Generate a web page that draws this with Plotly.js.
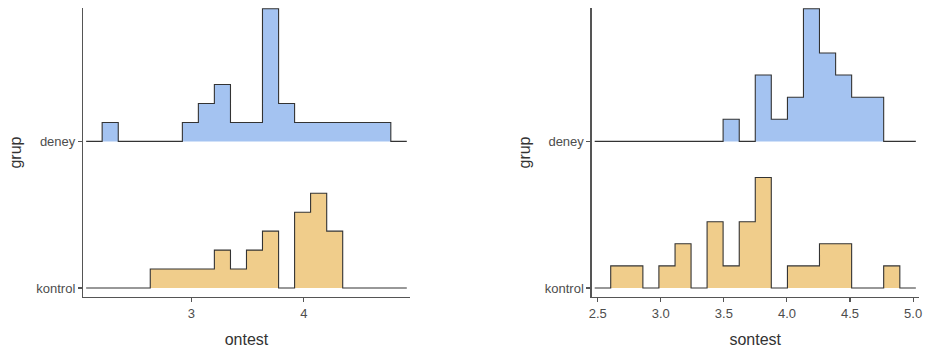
<!DOCTYPE html>
<html>
<head>
<meta charset="utf-8">
<script src="https://cdn.plot.ly/plotly-3.0.1.min.js"></script>
<style>html,body{margin:0;padding:0;background:#fff;}#chart{width:925px;height:348px;}</style>
</head>
<body>
<div id="chart"></div>
<script>
// Groups (bottom to top)
const groups = ["kontrol", "deney"];

// ontest: histogram bin edges and counts per group
const ontestEdges = [2.067, 2.209, 2.352, 2.494, 2.636, 2.779, 2.921, 3.063, 3.205, 3.348, 3.490,
                     3.632, 3.775, 3.917, 4.059, 4.202, 4.344, 4.486, 4.628, 4.771, 4.913];
const ontestKontrol = [0, 0, 0, 0, 1, 1, 1, 1, 2, 1, 2, 3, 0, 4, 5, 3, 0, 0, 0, 0];
const ontestDeney   = [0, 1, 0, 0, 0, 0, 1, 2, 3, 1, 1, 7, 2, 1, 1, 1, 1, 1, 1, 0];

// sontest: histogram bin edges and counts per group
const sontestEdges = [2.476, 2.603, 2.731, 2.858, 2.985, 3.113, 3.240, 3.367, 3.494, 3.622, 3.749,
                      3.876, 4.004, 4.131, 4.258, 4.386, 4.513, 4.640, 4.767, 4.895, 5.022];
const sontestKontrol = [0, 1, 1, 0, 1, 2, 0, 3, 1, 3, 5, 0, 1, 1, 2, 2, 0, 0, 1, 0];
const sontestDeney   = [0, 0, 0, 0, 0, 0, 0, 0, 1, 0, 3, 1, 2, 6, 4, 3, 2, 2, 0, 0];

// x-axis tick labels
const ontestTicks = [3, 4];
const sontestTicks = [2.5, 3.0, 3.5, 4.0, 4.5, 5.0];

const fillColors = {kontrol: "#F0CD8B", deney: "#A4C3F1"};
const RIDGE_SCALE = 0.905; // tallest ridge height, in units of group spacing

function ridgeTraces(edges, countsByGroup, xa, ya) {
  const maxCount = Math.max(...Object.values(countsByGroup).flat());
  const k = RIDGE_SCALE / maxCount;
  return groups.map((g, gi) => {
    const c = countsByGroup[g];
    const ys = c.concat([c[c.length - 1]]).map(v => gi + v * k);
    return {
      type: "scatter", mode: "lines", x: edges, y: ys,
      xaxis: xa, yaxis: ya,
      line: {shape: "hv", color: "#333333", width: 1.1},
      fill: "toself", fillcolor: fillColors[g],
      hoverinfo: "skip", showlegend: false
    };
  });
}

const data = [].concat(
  ridgeTraces(ontestEdges, {kontrol: ontestKontrol, deney: ontestDeney}, "x", "y"),
  ridgeTraces(sontestEdges, {kontrol: sontestKontrol, deney: sontestDeney}, "x2", "y2")
);

const FONT = "Liberation Sans, Arial, sans-serif";
const axisCommon = {
  showline: true, linecolor: "#555555", linewidth: 1.1,
  ticks: "outside", ticklen: 4, tickwidth: 1.1, tickcolor: "#555555",
  showgrid: false, zeroline: false,
  tickfont: {family: FONT, size: 13, color: "#4D4D4D"},
  fixedrange: true
};
const yCommon = Object.assign({}, axisCommon, {
  range: [-0.0612, 1.91],
  tickvals: [0, 1], ticktext: groups,
  title: {text: "grup", standoff: 10, font: {family: FONT, size: 16, color: "#333333"}}
});

const layout = {
  width: 925, height: 348,
  margin: {l: 83, r: 6, t: 8, b: 51},
  paper_bgcolor: "#ffffff", plot_bgcolor: "#ffffff",
  showlegend: false,
  xaxis: Object.assign({}, axisCommon, {
    domain: [0, 0.3911], range: [2.039, 4.941],
    tickvals: ontestTicks, ticktext: ontestTicks.map(v => v.toFixed(0)),
    title: {text: "ontest", font: {family: FONT, size: 16, color: "#333333"}},
    anchor: "y"
  }),
  yaxis: Object.assign({}, yCommon, {domain: [0, 1], anchor: "x"}),
  xaxis2: Object.assign({}, axisCommon, {
    domain: [0.6083, 1], range: [2.451, 5.047],
    tickvals: sontestTicks, ticktext: sontestTicks.map(v => v.toFixed(1)),
    title: {text: "sontest", font: {family: FONT, size: 16, color: "#333333"}},
    anchor: "y2"
  }),
  yaxis2: Object.assign({}, yCommon, {domain: [0, 1], anchor: "x2"})
};

Plotly.newPlot("chart", data, layout, {displayModeBar: false, staticPlot: true});
</script>
</body>
</html>
